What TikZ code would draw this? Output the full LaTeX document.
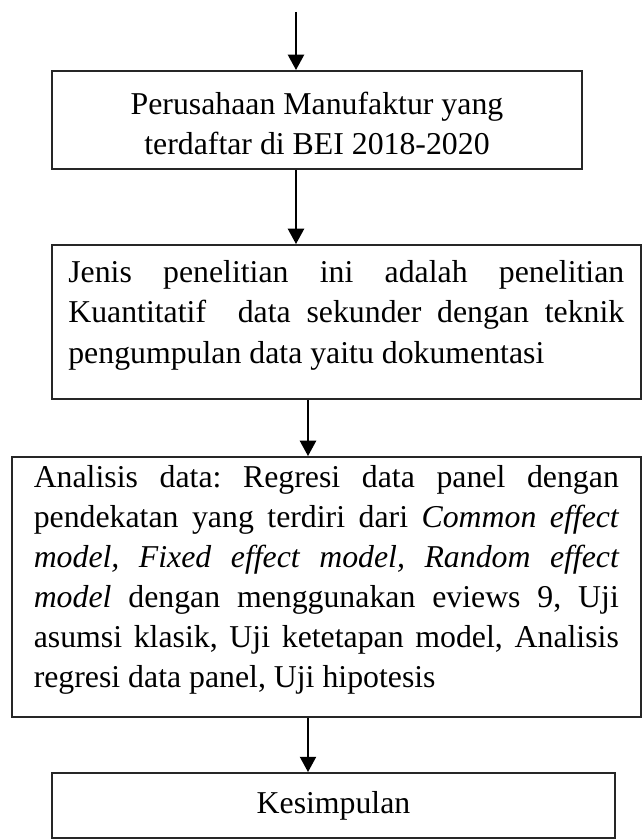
\documentclass[tikz,border=0pt]{standalone}
\usepackage{fontspec}
\setmainfont{Liberation Serif}
\usetikzlibrary{arrows.meta}
\def\FlowPar#1#2#3#4{% width, height, top gap, text
  \vbox to #2{\hsize=#1\parindent=0pt\tolerance=10000\hbadness=10000\frenchspacing
    \vskip#3\relax #4\par\vfil}}
\tikzset{x=0.3774pt, y=-0.3774pt,
  flow box/.style={draw=black!85, line width=0.7pt, inner ysep=0pt,
    font=\fontsize{12pt}{15.1pt}\selectfont},
  flow arrow/.style={draw=black, line width=1pt, -{Triangle[width=6pt,length=5.8pt]}}
}

\begin{document}
\begin{tikzpicture}
\useasboundingbox (0,0) rectangle (642,839);
\coordinate (start) at (296,12);
\coordinate (lower) at (308,0);
\node[flow box, inner xsep=0pt] (bei) at (317,120)
  {\FlowPar{200pt}{37pt}{8pt}{\centering Perusahaan Manufaktur yang\\terdaftar di BEI 2018-2020}};
\node[flow box, inner xsep=6.2pt] (jenis) at (346.3,322)
  {\FlowPar{209.8pt}{58.1pt}{6pt}{Jenis penelitian ini adalah penelitian\linebreak
   Kuantitatif\ \ data sekunder dengan teknik\linebreak
   pengumpulan data yaitu dokumentasi}};
\node[flow box, inner xsep=8.3pt] (analisis) at (326.3,587)
  {\FlowPar{220.8pt}{98.1pt}{3pt}{Analisis data: Regresi data panel dengan\linebreak
   pendekatan yang terdiri dari \textit{Common effect\linebreak
   model, Fixed effect model, Random effect\linebreak
   model} dengan menggunakan eviews 9, Uji\linebreak
   asumsi klasik, Uji ketetapan model, Analisis\linebreak
   regresi data panel, Uji hipotesis}};
\node[flow box, minimum width=212.5pt, minimum height=24.5pt] (kesimpulan) at (333.5,805.5) {Kesimpulan};
% arrows down the chart
\draw[flow arrow] (start) -- (bei.north -| start);
\draw[flow arrow] (bei.south -| start) -- (jenis.north -| start);
\draw[flow arrow] (jenis.south -| lower) -- (analisis.north -| lower);
\draw[flow arrow] (analisis.south -| lower) -- (kesimpulan.north -| lower);
\end{tikzpicture}
\end{document}
